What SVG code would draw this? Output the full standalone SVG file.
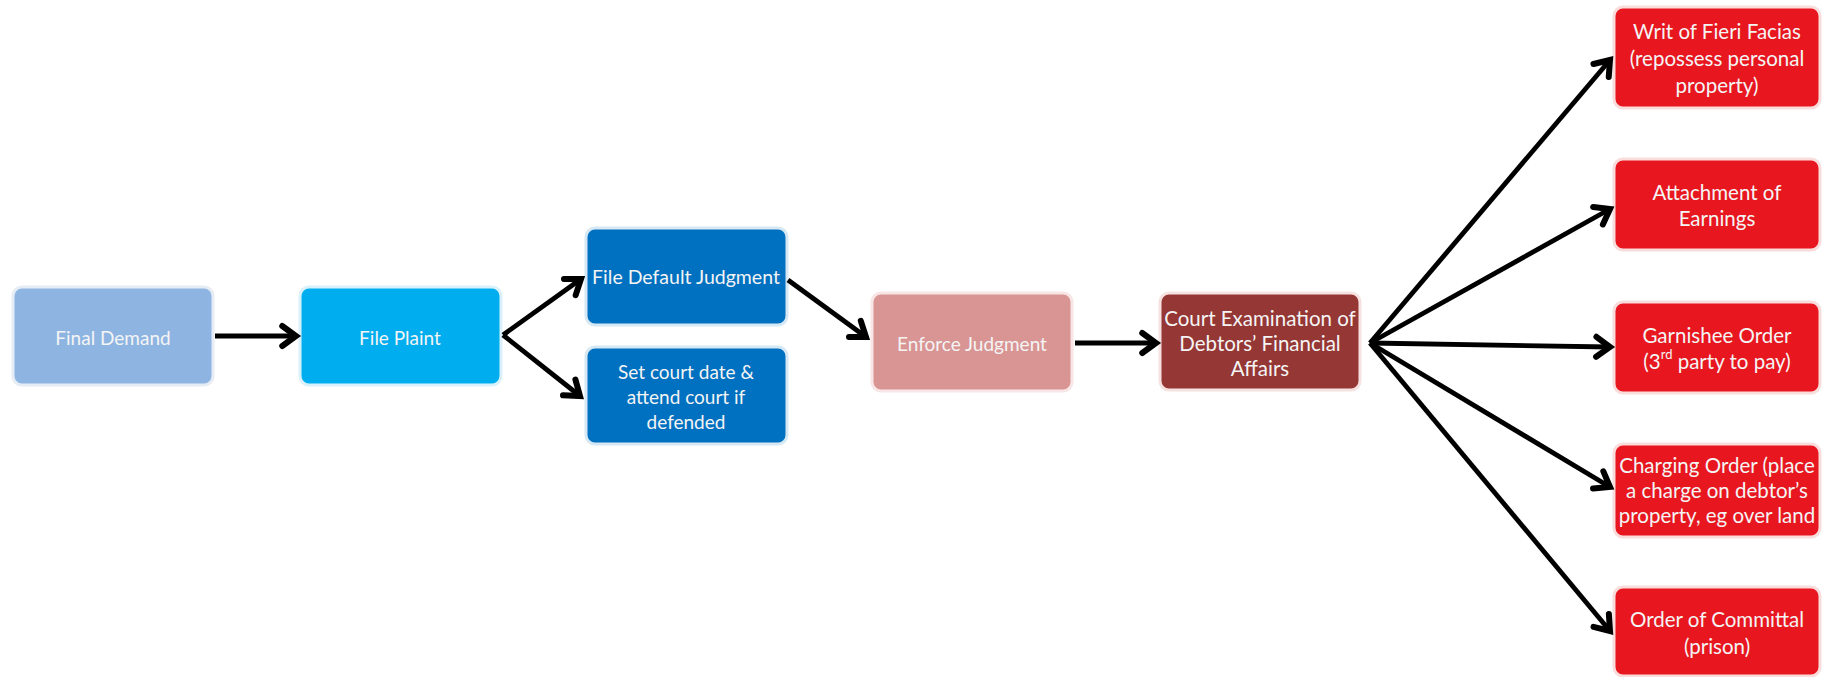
<svg xmlns="http://www.w3.org/2000/svg" width="1827" height="677" viewBox="0 0 1827 677">
<style>
  .box { stroke-width: 3; }
  .t { font-family: Lato, "Open Sans", "Liberation Sans", sans-serif; fill: #f4f4f4; text-anchor: middle; dominant-baseline: central; }
  .s19 { font-size: 19px; }
  .s195 { font-size: 19.5px; }
  .s20 { font-size: 20.5px; }
  .conn line { stroke: #000; stroke-width: 4.8; stroke-linecap: butt; marker-end: url(#arr); }
</style>
<defs>
  <marker id="arr" markerUnits="userSpaceOnUse" markerWidth="30" markerHeight="30" viewBox="-16 -12 20 24" refX="0" refY="0" orient="auto">
    <path d="M-11,-8 L0,0 L-11,8" fill="none" stroke="#000" stroke-width="4.8" stroke-linejoin="miter" stroke-linecap="round"/>
  </marker>
</defs>
<rect width="1827" height="677" fill="#ffffff"/>

<g id="final-demand">
  <rect class="box" x="13" y="287" width="200" height="98" rx="9" fill="#8EB4E2" stroke="#e6ecf3"/>
  <text class="t s19" x="113" y="337" fill="#eef3fa">Final Demand</text>
</g>
<g id="file-plaint">
  <rect class="box" x="300" y="287" width="201" height="98" rx="9" fill="#00AEEF" stroke="#d9f1fb"/>
  <text class="t s19" x="400" y="337">File Plaint</text>
</g>
<g id="file-default-judgment">
  <rect class="box" x="586" y="228" width="201" height="97" rx="9" fill="#0070C0" stroke="#d6e8f3"/>
  <text class="t s195" x="686" y="276">File Default Judgment</text>
</g>
<g id="set-court-date">
  <rect class="box" x="586" y="347" width="201" height="97" rx="9" fill="#0070C0" stroke="#d6e8f3"/>
  <text class="t s19" x="686" y="371">Set court date &amp;</text>
  <text class="t s19" x="686" y="396">attend court if</text>
  <text class="t s19" x="686" y="421">defended</text>
</g>
<g id="enforce-judgment">
  <rect class="box" x="872" y="293" width="200" height="98" rx="9" fill="#D99594" stroke="#f7e6e5"/>
  <text class="t s19" x="972" y="343">Enforce Judgment</text>
</g>
<g id="court-examination">
  <rect class="box" x="1160" y="293" width="200" height="97" rx="9" fill="#953735" stroke="#f5e2e1"/>
  <text class="t s20" x="1260" y="318">Court Examination of</text>
  <text class="t s20" x="1260" y="343">Debtors’ Financial</text>
  <text class="t s20" x="1260" y="368">Affairs</text>
</g>
<g id="writ-of-fieri-facias">
  <rect class="box" x="1614" y="7" width="206" height="101" rx="9" fill="#E8161F" stroke="#f9dcdc"/>
  <text class="t s20" x="1717" y="31">Writ of Fieri Facias</text>
  <text class="t s20" x="1717" y="58">(repossess personal</text>
  <text class="t s20" x="1717" y="85">property)</text>
</g>
<g id="attachment-of-earnings">
  <rect class="box" x="1614" y="159" width="206" height="91" rx="9" fill="#E8161F" stroke="#f9dcdc"/>
  <text class="t s20" x="1717" y="192">Attachment of</text>
  <text class="t s20" x="1717" y="218">Earnings</text>
</g>
<g id="garnishee-order">
  <rect class="box" x="1614" y="302" width="206" height="91" rx="9" fill="#E8161F" stroke="#f9dcdc"/>
  <text class="t s20" x="1717" y="335">Garnishee Order</text>
  <text class="t s20" x="1717" y="361">(3<tspan font-size="13" dy="-7">rd</tspan><tspan dy="7"> party to pay)</tspan></text>
</g>
<g id="charging-order">
  <rect class="box" x="1614" y="444" width="206" height="93" rx="9" fill="#E8161F" stroke="#f9dcdc"/>
  <text class="t s20" x="1717" y="465">Charging Order (place</text>
  <text class="t s20" x="1717" y="490">a charge on debtor’s</text>
  <text class="t s20" x="1717" y="515">property, eg over land</text>
</g>
<g id="order-of-committal">
  <rect class="box" x="1614" y="587" width="206" height="89" rx="9" fill="#E8161F" stroke="#f9dcdc"/>
  <text class="t s20" x="1717" y="619">Order of Committal</text>
  <text class="t s20" x="1717" y="646">(prison)</text>
</g>

<g id="connectors" class="conn">
  <line x1="215" y1="336" x2="296" y2="336"/>
  <line x1="503" y1="335" x2="581" y2="279"/>
  <line x1="503" y1="335" x2="580" y2="396"/>
  <line x1="788" y1="280" x2="866" y2="337"/>
  <line x1="1075" y1="343" x2="1156" y2="343"/>
  <line x1="1370" y1="343" x2="1610" y2="60"/>
  <line x1="1370" y1="343" x2="1610" y2="209"/>
  <line x1="1370" y1="343" x2="1610" y2="347"/>
  <line x1="1370" y1="343" x2="1610" y2="487"/>
  <line x1="1370" y1="343" x2="1610" y2="631"/>
</g>
</svg>
